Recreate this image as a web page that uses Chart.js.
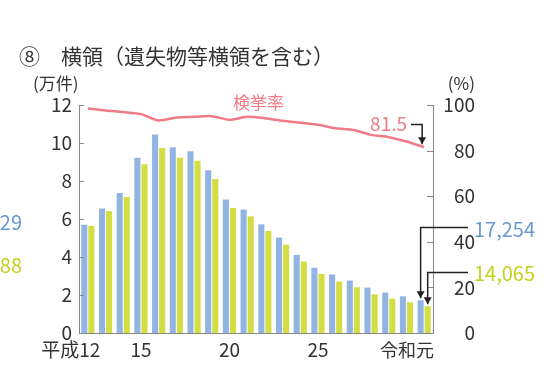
<!DOCTYPE html>
<html>
<head>
<meta charset="utf-8">
<script src="https://cdn.jsdelivr.net/npm/chart.js@4.4.1/dist/chart.umd.min.js"></script>
<style>
  body { margin: 0; background: #fff; }
</style>
</head>
<body>
<canvas id="grafico" width="552" height="377"></canvas>
<script>
// anos (平成12 ~ 令和元)
const anos = ['平成12','13','14','15','16','17','18','19','20','21','22','23','24','25','26','27','28','29','30','令和元'];
const rotulosEixoX = ['平成12','','','15','','','','','20','','','','','25','','','','','','令和元'];

// 万件
const serieAzul = [5.70, 6.55, 7.37, 9.22, 10.45, 9.78, 9.57, 8.56, 7.02, 6.50, 5.72, 5.02, 4.11, 3.43, 3.08, 2.76, 2.39, 2.13, 1.93, 1.7254];
const serieVerde = [5.64, 6.41, 7.16, 8.88, 9.74, 9.23, 9.06, 8.11, 6.58, 6.14, 5.37, 4.65, 3.76, 3.11, 2.71, 2.41, 2.04, 1.81, 1.62, 1.4065];
// 検挙率 (%)
const taxaEsclarecimento = [98.5, 97.6, 96.9, 96.0, 93.2, 94.5, 94.8, 95.1, 93.5, 94.8, 94.2, 93.1, 92.2, 91.3, 89.8, 89.0, 86.9, 85.9, 84.0, 81.5];

const ticksEsquerda = [0, 2, 4, 6, 8, 10, 12];
const ticksDireita = [0, 20, 40, 60, 80, 100];

const fonte = "'Noto Sans CJK JP', 'Noto Sans', sans-serif";
const corTexto = '#333';
const corAzul = '#92b4e3';
const corVerde = '#d2de42';
const corRosa = '#ef7b86';

Chart.defaults.font.family = fonte;

function seta(ctx, pontos) {
  ctx.save();
  ctx.strokeStyle = '#222';
  ctx.fillStyle = '#222';
  ctx.lineWidth = 1.5;
  ctx.beginPath();
  ctx.moveTo(pontos[0][0], pontos[0][1]);
  for (let i = 1; i < pontos.length; i++) ctx.lineTo(pontos[i][0], pontos[i][1]);
  ctx.stroke();
  const [x, y] = pontos[pontos.length - 1];
  ctx.beginPath();
  ctx.moveTo(x - 4, y - 7);
  ctx.lineTo(x + 4, y - 7);
  ctx.lineTo(x, y);
  ctx.closePath();
  ctx.fill();
  ctx.restore();
}

const anotacoes = {
  id: 'anotacoes',
  afterDraw(chart) {
    const ctx = chart.ctx;
    const area = chart.chartArea;
    const sx = chart.scales.x;
    const sy = chart.scales.y;
    const sy2 = chart.scales.y2;

    ctx.save();
    // marcas dos eixos (para dentro)
    ctx.strokeStyle = '#888';
    ctx.lineWidth = 1;
    ticksEsquerda.forEach(v => {
      const y = Math.round(sy.getPixelForValue(v)) + 0.5;
      ctx.beginPath(); ctx.moveTo(area.left, y); ctx.lineTo(area.left + 5, y); ctx.stroke();
    });
    ticksDireita.forEach(v => {
      const y = Math.round(sy2.getPixelForValue(v)) + 0.5;
      ctx.beginPath(); ctx.moveTo(area.right, y); ctx.lineTo(area.right - 6, y); ctx.stroke();
    });

    // rotulos do eixo x
    ctx.fillStyle = corTexto;
    ctx.textBaseline = 'middle';
    rotulosEixoX.forEach((r, i) => {
      if (!r) return;
      const x = sx.getPixelForValue(i);
      if (i == 0) {
        ctx.font = `19px ${fonte}`;
        ctx.textAlign = 'right';
        ctx.fillText(r, x + ctx.measureText('12').width / 2 + 2, 350);
      } else if (i == rotulosEixoX.length - 1) {
        ctx.font = `18px ${fonte}`;
        ctx.textAlign = 'right';
        ctx.fillText(r, area.right + 1, 350);
      } else {
        ctx.font = `19px ${fonte}`;
        ctx.textAlign = 'center';
        ctx.fillText(r, x, 350);
      }
    });

    // titulo e unidades
    ctx.textAlign = 'left';
    ctx.font = `21px ${fonte}`;
    ctx.fillText('⑧', 19, 56);
    ctx.fillText('横領（遺失物等横領を含む）', 61, 56);
    ctx.font = `17px ${fonte}`;
    ctx.fillText('(万件)', 33, 84);
    ctx.textAlign = 'right';
    ctx.fillText('(%)', 475, 84);

    // 検挙率
    ctx.fillStyle = corRosa;
    ctx.textAlign = 'left';
    ctx.font = `17px ${fonte}`;
    ctx.fillText('検挙率', 233, 103);
    ctx.font = `19px ${fonte}`;
    ctx.textAlign = 'right';
    ctx.fillText(taxaEsclarecimento[19].toFixed(1), 407, 124);

    const ult = anos.length - 1;
    const xLinha = sx.getPixelForValue(ult);
    const yLinha = sy2.getPixelForValue(taxaEsclarecimento[ult]);
    seta(ctx, [[411, 124.5], [xLinha - 2, 124.5], [xLinha - 2, yLinha - 3]]);

    // valores do ultimo ano
    const barAzul = chart.getDatasetMeta(0).data[ult];
    const barVerde = chart.getDatasetMeta(1).data[ult];
    seta(ctx, [[468, 227.5], [barAzul.x, 227.5], [barAzul.x, barAzul.y - 2]]);
    seta(ctx, [[468, 272.5], [barVerde.x, 272.5], [barVerde.x, barVerde.y - 2]]);

    ctx.textAlign = 'left';
    ctx.font = `20px ${fonte}`;
    ctx.fillStyle = '#6a98d6';
    ctx.fillText(Math.round(serieAzul[ult] * 10000).toLocaleString('en-US'), 474, 229);
    ctx.fillStyle = '#c3d11c';
    ctx.fillText(Math.round(serieVerde[ult] * 10000).toLocaleString('en-US'), 474, 273);

    // restos do grafico vizinho
    ctx.textAlign = 'right';
    ctx.fillStyle = '#6a98d6';
    ctx.fillText('29', 22, 222);
    ctx.fillStyle = '#c3d11c';
    ctx.fillText('88', 22, 265);
    ctx.restore();
  }
};

const ctx = document.getElementById('grafico').getContext('2d');
let grafico = new Chart(ctx, {
  type: 'bar',
  data: {
    labels: anos,
    datasets: [
      {
        label: '認知件数',
        data: serieAzul,
        backgroundColor: corAzul,
        yAxisID: 'y',
        categoryPercentage: 0.8,
        barPercentage: 0.86,
        order: 2,
      },
      {
        label: '検挙件数',
        data: serieVerde,
        backgroundColor: corVerde,
        yAxisID: 'y',
        categoryPercentage: 0.8,
        barPercentage: 0.86,
        order: 2,
      },
      {
        type: 'line',
        label: '検挙率',
        data: taxaEsclarecimento,
        borderColor: corRosa,
        borderWidth: 2.5,
        pointRadius: 0,
        tension: 0.25,
        yAxisID: 'y2',
        order: 0,
      },
    ],
  },
  options: {
    responsive: false,
    animation: false,
    layout: { padding: { top: 105, right: 77, left: 0, bottom: 0 } },
    plugins: {
      legend: { display: false },
      tooltip: { enabled: false },
    },
    scales: {
      x: {
        grid: { display: false, drawTicks: false },
        border: { display: true, color: '#888' },
        ticks: { display: false },
        afterFit: (s) => { s.height = 44; },
      },
      y: {
        position: 'left',
        min: 0,
        max: 12,
        grid: { display: false, drawTicks: false },
        border: { display: true, color: '#888' },
        ticks: { stepSize: 2, padding: 7, color: corTexto, font: { size: 19 } },
        afterFit: (s) => { s.width = 79; },
      },
      y2: {
        position: 'right',
        min: 0,
        max: 100,
        grid: { display: false, drawTicks: false },
        border: { display: true, color: '#888' },
        ticks: { stepSize: 20, padding: 10, crossAlign: 'far', color: corTexto, font: { size: 19 } },
        afterFit: (s) => { s.width = 42; },
      },
    },
  },
  plugins: [anotacoes],
});
</script>
</body>
</html>
